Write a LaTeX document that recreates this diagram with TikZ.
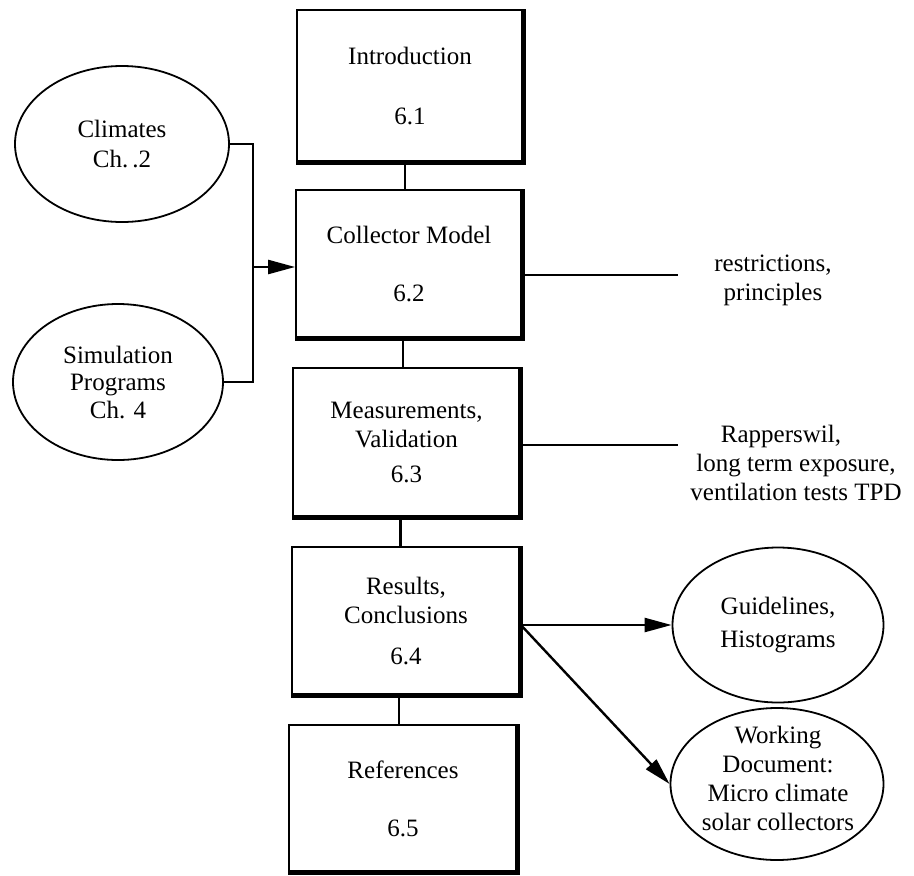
\documentclass[tikz,border=0pt]{standalone}
\usepackage{fontspec}
\setmainfont{Liberation Serif}
\usetikzlibrary{arrows.meta,shapes.geometric}
\begin{document}
\begin{tikzpicture}[x=1pt,y=-1pt,
  every node/.style={font=\fontsize{25}{29}\selectfont, align=center},
  box/.style={draw, line width=1.8pt, inner sep=0pt},
  oval/.style={draw, ellipse, line width=1.8pt, inner sep=0pt},
  shade/.style={line width=5pt, line join=miter},
  link/.style={line width=2.4pt},
  arr/.style={line width=2.4pt, -{Triangle[length=27pt,width=14pt]}},
  lbl/.style={inner sep=0pt}]
\useasboundingbox (0,0) rectangle (914,876);
% main boxes
\node[box, minimum width=226pt, minimum height=152pt] (b1) at (410,86) {Introduction\\[31pt]6.1};
\node[box, minimum width=226pt, minimum height=148pt] (b2) at (409,264) {Collector Model\\[29pt]6.2};
\node[box, minimum width=227pt, minimum height=149pt] (b3) at (406.5,442.5) {Measurements,\\Validation\\[6pt]6.3};
\node[box, minimum width=228pt, minimum height=148pt] (b4) at (406,621) {Results,\\Conclusions\\[12pt]6.4};
\node[box, minimum width=228pt, minimum height=147pt] (b5) at (403,798.5) {References\\[29pt]6.5};
\foreach \b in {b1,b2,b3,b4,b5}
  \draw[shade] (\b.north east) -- (\b.south east) -- (\b.south west);
% connectors between boxes
\draw[link] ([xshift=-5pt]b1.south) -- ([xshift=-5pt]b1.south |- b2.north);
\draw[link] ([xshift=-6pt]b2.south) -- ([xshift=-6pt]b2.south |- b3.north);
\draw[link] ([xshift=-6pt]b3.south) -- ([xshift=-6pt]b3.south |- b4.north);
\draw[link] ([xshift=-7pt]b4.south) -- ([xshift=-7pt]b4.south |- b5.north);
% left ellipses
\node[oval, minimum width=214pt, minimum height=156pt] (cl) at (122,144) {};
\node[lbl] (clt) at (cl) {Climates\\Ch.\,.2};
\node[oval, minimum width=210pt, minimum height=156pt] (sim) at (118,382) {};
\node[lbl, font=\fontsize{25}{27.5}\selectfont] (simt) at (sim) {Simulation\\Programs\\Ch. 4};
\coordinate (j) at (253,267);
\draw[link] (cl.east) -- (cl.east -| j) -- (sim.east -| j) -- (sim.east);
\draw[arr] (j) -- (j -| b2.west);
% right side labels
\coordinate (r1) at (678,275);
\draw[link] (b2.east |- r1) -- (r1);
\node[lbl] (t1) at (773,280) {restrictions,\\principles};
\coordinate (r2) at (678,445);
\draw[link] (b3.east |- r2) -- (r2);
\node[lbl] (t2) at (796,463) {Rapperswil,\hspace*{30pt}\\long term exposure,\\ventilation tests TPD};
% right ellipses
\node[oval, minimum width=211pt, minimum height=155pt] (gd) at (778,625) {};
\node[lbl, font=\fontsize{25}{33}\selectfont] (gdt) at (gd) {Guidelines,\\Histograms};
\node[oval, minimum width=213pt, minimum height=152pt] (wk) at (777,784) {};
\node[lbl] (wkt) at (778,778) {Working\\Document:\\Micro climate\\solar collectors};
\draw[arr] (b4.east |- gd.west) -- (gd.west);
\draw[arr] (b4.east |- gd.west) -- (wk.west);
\end{tikzpicture}
\end{document}
